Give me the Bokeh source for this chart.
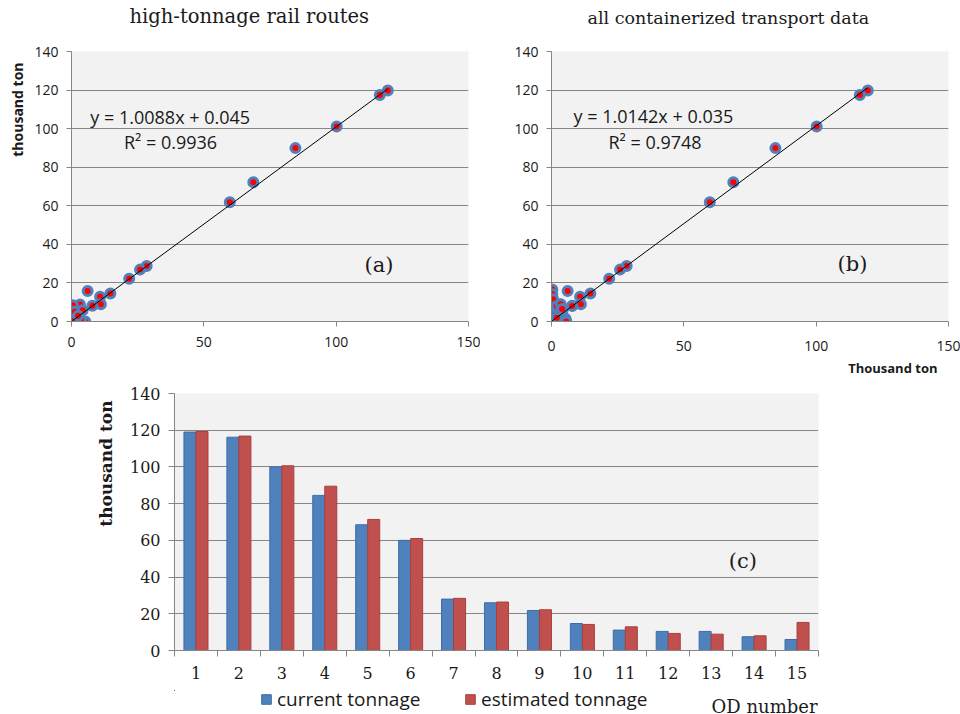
from bokeh.plotting import figure
from bokeh.models import ColumnDataSource, Label, Legend, LegendItem, FixedTicker, Range1d, Title
from bokeh.layouts import column, row
from bokeh.embed import file_html
from bokeh.resources import INLINE
from bokeh.transform import dodge

# ---------------- data ----------------
# (a) high-tonnage rail routes: current (x) vs estimated (y), thousand ton
a_current = [119.5, 116.5, 100.2, 84.6, 68.7, 59.8, 28.4, 25.9, 21.8, 14.7,
             10.8, 11.1, 7.9, 6.1, 3.2, 0.5, 0.4, 5.2, 1.2, 3.6, 4.2, 2.5]
a_estimated = [119.8, 117.4, 101.1, 89.9, 72.2, 61.8, 28.8, 26.9, 22.2, 14.5,
               12.8, 9.0, 8.2, 15.8, 8.8, 8.4, 0.3, 0.0, 5.0, 0.8, 5.8, 3.0]
a_slope, a_intercept, a_r2 = 1.0088, 0.045, 0.9936

# (b) all containerized transport data (adds many small flows)
b_extra_current = [0.3, 0.3, 0.3, 0.2, 0.1, 0.2, 0.3, 0.6, 1.0, 1.5, 2.0,
                   2.5, 3.0, 3.5, 4.0, 5.3, 5.6, 1.0, 2.0, 7.8]
b_extra_estimated = [16.6, 14.1, 9.8, 7.0, 5.0, 3.0, 1.4, 11.5, 6.0, 3.5, 8.0,
                     1.0, 4.5, 9.0, 6.5, 1.4, 0.0, 0.0, 2.0, 8.1]
b_current = a_current + b_extra_current
b_estimated = a_estimated + b_extra_estimated
b_slope, b_intercept, b_r2 = 1.0142, 0.035, 0.9748

# (c) per-OD comparison
od_numbers = list(range(1, 16))
od_labels = [str(n) for n in od_numbers]
current_tonnage = [119.0, 116.2, 100.0, 84.5, 68.5, 60.0, 28.0, 26.0, 21.8,
                   14.7, 11.1, 10.4, 10.4, 7.5, 6.0]
estimated_tonnage = [119.3, 116.8, 100.6, 89.5, 71.4, 61.0, 28.4, 26.4, 22.2,
                     14.2, 12.9, 9.3, 8.9, 8.0, 15.3]
series_names = ["current tonnage", "estimated tonnage"]

GRID = "#868686"
BG = "#F2F2F2"
TXT = "#1a1a1a"
BLUE = "#4F81BD"
RED = "#C0504D"
BLUE_EDGE = "#3D6DA8"
RED_EDGE = "#A8403D"
TOP_H = 384
PC_H = 306
LEG_H = 714 - TOP_H - PC_H
FRAME_L, FRAME_R = 174, 818   # bar-chart frame, shared by the legend strip


def style_axes(p, sans=True, size="14px"):
    font = "Open Sans" if sans else "DejaVu Serif"
    for ax in (p.xaxis, p.yaxis):
        ax.axis_line_color = GRID
        ax.major_tick_line_color = GRID
        ax.minor_tick_line_color = None
        ax.major_tick_in = 0
        ax.major_tick_out = 5
        ax.major_label_text_font = font
        ax.major_label_text_font_size = size
        ax.major_label_text_color = TXT
    p.background_fill_color = BG
    p.border_fill_color = "white"
    p.outline_line_color = None
    p.xgrid.grid_line_color = None
    p.ygrid.grid_line_color = GRID
    p.ygrid.grid_line_width = 1


def scatter_fig(xs, ys, slope, intercept, r2, left, frame_h, title, title_offset,
                title_size, x_standoff, eq_xy, r2_xy, tag, tag_xy):
    p = figure(width=480, height=TOP_H, x_range=Range1d(0, 150), y_range=Range1d(0, 140),
               output_backend="svg", toolbar_location=None,
               min_border_left=left, min_border_right=12,
               min_border_top=51, min_border_bottom=TOP_H - 51 - frame_h)
    style_axes(p)
    p.xaxis.ticker = FixedTicker(ticks=[0, 50, 100, 150])
    p.yaxis.ticker = FixedTicker(ticks=list(range(0, 141, 20)))
    p.xaxis.major_label_standoff = x_standoff
    p.yaxis.major_label_standoff = 8
    p.title.text = ""
    # blank spacer next to the frame, the real title above it
    p.add_layout(Title(text="\u00a0", text_font_size="10px", standoff=10), "above")
    p.add_layout(Title(text=title, align="left", offset=title_offset,
                       vertical_align="bottom", standoff=2, text_font="DejaVu Serif",
                       text_font_style="normal", text_font_size=title_size,
                       text_color=TXT), "above")
    src = ColumnDataSource(dict(x=xs, y=ys))
    p.scatter("x", "y", source=src, size=9, fill_color="#FF0000",
              line_color=BLUE, line_width=3)
    xl = [min(xs), max(xs)]
    p.line(xl, [slope * v + intercept for v in xl], line_color="black", line_width=1)
    sign = "+" if intercept >= 0 else "-"
    p.add_layout(Label(x=eq_xy[0], y=eq_xy[1],
                       text=f"y = {slope:.4f}x {sign} {abs(intercept):.3f}",
                       text_align="left", text_baseline="middle", text_font="Open Sans",
                       text_font_size="18px", text_color=TXT))
    p.add_layout(Label(x=r2_xy[0], y=r2_xy[1], text=f"R² = {r2:.4f}",
                       text_align="left", text_baseline="middle", text_font="Open Sans",
                       text_font_size="18px", text_color=TXT))
    p.add_layout(Label(x=tag_xy[0], y=tag_xy[1], text=tag, text_align="center",
                       text_baseline="middle", text_font="DejaVu Serif",
                       text_font_size="21px", text_color=TXT))
    return p


pa = scatter_fig(a_current, a_estimated, a_slope, a_intercept, a_r2,
                 67, 272, "high-tonnage rail routes", 58, "19.5px", 10,
                 (7.1, 106.0), (19.8, 93.2), "(a)", (116.2, 29.3))
pa.add_layout(Title(text="thousand ton", align="right", offset=11, vertical_align="bottom",
                    standoff=10, text_font="Open Sans", text_font_style="bold",
                    text_font_size="14px", text_color=TXT), "left")

pb = scatter_fig(b_current, b_estimated, b_slope, b_intercept, b_r2,
                 71, 275, "all containerized transport data", 36, "17.5px", 14,
                 (8.3, 106.4), (21.5, 93.2), "(b)", (113.7, 30.0))
pb.add_layout(Title(text="Thousand ton", align="right", offset=11, vertical_align="top",
                    standoff=11, text_font="Open Sans", text_font_style="bold",
                    text_font_size="13px", text_color=TXT), "below")

# ---------------- bar chart ----------------
pc = figure(width=960, height=PC_H, x_range=Range1d(0.5, 15.5), y_range=Range1d(0, 140),
            output_backend="svg", toolbar_location=None,
            min_border_left=FRAME_L, min_border_right=960 - FRAME_R,
            min_border_top=PC_H - 40 - 257, min_border_bottom=40)
style_axes(pc, sans=False, size="16px")
pc.yaxis.ticker = FixedTicker(ticks=list(range(0, 141, 20)))
pc.yaxis.major_tick_out = 6
pc.yaxis.major_label_standoff = 8
pc.xaxis.ticker = FixedTicker(ticks=od_numbers,
                              minor_ticks=[n - 0.5 for n in od_numbers] + [od_numbers[-1] + 0.5])
pc.xaxis.major_label_overrides = {n: s for n, s in zip(od_numbers, od_labels)}
pc.xaxis.major_tick_line_color = None
pc.xaxis.major_tick_out = 0
pc.xaxis.minor_tick_line_color = GRID
pc.xaxis.minor_tick_in = 0
pc.xaxis.minor_tick_out = 6
pc.xaxis.major_label_standoff = 10

csrc = ColumnDataSource(dict(od=od_numbers, cur=current_tonnage, est=estimated_tonnage))
pc.vbar(x=dodge("od", -0.14, range=pc.x_range), top="cur", width=0.28, source=csrc,
        fill_color=BLUE, line_color=BLUE_EDGE, line_width=1)
pc.vbar(x=dodge("od", 0.14, range=pc.x_range), top="est", width=0.28, source=csrc,
        fill_color=RED, line_color=RED_EDGE, line_width=1)

pc.add_layout(Title(text="thousand ton", align="right", offset=7, vertical_align="bottom",
                    standoff=21, text_font="DejaVu Serif", text_font_style="bold",
                    text_font_size="17px", text_color=TXT), "left")
pc.add_layout(Label(x=13.74, y=49, text="(c)", text_align="center",
                    text_baseline="middle", text_font="DejaVu Serif",
                    text_font_size="21px", text_color=TXT))

# ---------------- legend strip under the bar chart ----------------
# its frame is aligned with the bar chart's frame by the column layout;
# x range in page pixels; y range below zero so the carrier bars (which rise
# from zero, at OD positions far left of this range) never enter the strip
pl = figure(width=960, height=LEG_H, x_range=Range1d(FRAME_L, FRAME_R),
            y_range=Range1d(-LEG_H, 0),
            output_backend="svg", toolbar_location=None,
            x_axis_location=None, y_axis_location=None,
            min_border_left=FRAME_L, min_border_right=960 - FRAME_R,
            min_border_top=0, min_border_bottom=0)
pl.grid.visible = False
pl.outline_line_color = None
pl.background_fill_color = "white"
l1 = pl.vbar(x="od", top="cur", width=0.28, source=csrc, fill_color=BLUE,
             line_color=BLUE_EDGE, line_alpha=1)
l2 = pl.vbar(x="od", top="est", width=0.28, source=csrc, fill_color=RED,
             line_color=RED_EDGE, line_alpha=1)
legend = Legend(items=[LegendItem(label=series_names[0], renderers=[l1]),
                       LegendItem(label=series_names[1], renderers=[l2])],
                location=(260 - FRAME_L, 2), orientation="horizontal",
                background_fill_alpha=0, border_line_color=None,
                glyph_width=12, glyph_height=12, label_standoff=5, spacing=41,
                padding=0, margin=0, label_text_font="Open Sans",
                label_text_font_size="19px", label_text_color=TXT,
                label_width=146, label_height=12)
pl.add_layout(legend)
pl.add_layout(Label(x=FRAME_R - 1, y=-16, text="OD number", text_align="right",
                    text_baseline="middle", text_font="DejaVu Serif",
                    text_font_size="18px", text_color=TXT))

layout = column(row(pa, pb), pc, pl)
open("out.html", "w").write(file_html(layout, INLINE))
